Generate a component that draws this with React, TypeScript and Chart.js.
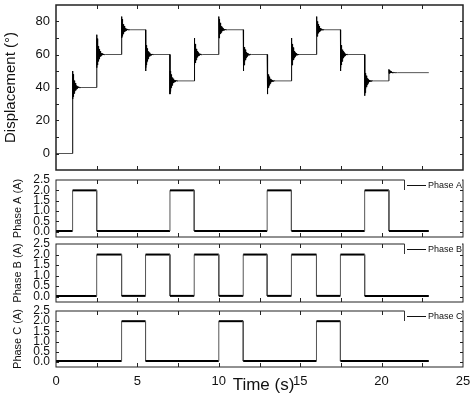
import React, { useEffect, useRef } from 'react';
import { Chart, registerables } from 'chart.js';
Chart.register(...registerables);

// ---------- data ----------
const xTickLabels = [0, 5, 10, 15, 20, 25];
const xInnerTicks = [2.5, 5, 7.5, 10, 12.5, 15, 17.5, 20, 22.5];
const dispTickLabels = [0, 20, 40, 60, 80];
const dispInnerTicks = [0, 10, 20, 30, 40, 50, 60, 70, 80];
const phaseTickLabels = [0, 0.5, 1.0, 1.5, 2.0, 2.5];
const phaseInnerTicks = [0, 0.5, 1.0, 1.5, 2.0];

// step commands (s) and resulting displacement (deg)
const stepTimes = [1.02, 2.5, 4.03, 5.5, 7.0, 8.49, 10.0, 11.5, 12.97, 14.46, 16.0, 17.47, 18.96, 20.45];
const stepLevels = [40, 60, 75, 60, 44, 60, 75, 60, 44, 60, 75, 60, 44, 49];
const firstPeaks = [50, 72, 83, 50, 36, 70, 83, 50, 36, 70, 83, 50, 35, 51];
const firstTroughs = [33, 52, 70, 67, 50, 52, 70, 67, 50, 52, 70, 67, 50, 48.5];
// relative amplitude of the successive ringing cycles after each step
const ringEnvelope = [1, 0.8, 0.64, 0.52, 0.42, 0.34, 0.27, 0.21, 0.16, 0.12, 0.09, 0.07, 0.055, 0.042, 0.032, 0.024, 0.017, 0.011, 0.006, 0.003];
const ringHalfPeriod = 0.013;
const recordEnd = 22.9;

// phase currents (A)
const phaseHigh = 2.0;
const phaseLow = 0.04;
const phaseAOn = [1.02, 7.0, 12.97, 18.96];
const phaseAOff = [2.5, 8.49, 14.46, 20.45];
const phaseBOn = [2.5, 5.5, 8.49, 11.5, 14.46, 17.47];
const phaseBOff = [4.03, 7.0, 10.0, 12.97, 16.0, 18.96];
const phaseCOn = [4.03, 10.0, 16.0];
const phaseCOff = [5.5, 11.5, 17.47];

// ---------- series building ----------
function displacementSeries() {
  const pts: { x: number; y: number }[] = [{ x: 0, y: 0 }];
  let prev = 0;
  stepTimes.forEach((t, i) => {
    const L = stepLevels[i];
    pts.push({ x: t, y: prev });
    ringEnvelope.forEach((e, k) => {
      const t0 = t + 2 * k * ringHalfPeriod;
      pts.push({ x: t0, y: L + (firstPeaks[i] - L) * e });
      pts.push({ x: t0 + ringHalfPeriod, y: L + (firstTroughs[i] - L) * e });
    });
    pts.push({ x: t + 2 * ringEnvelope.length * ringHalfPeriod, y: L });
    prev = L;
  });
  pts.push({ x: recordEnd, y: prev });
  return pts;
}

function phaseSeries(on: number[], off: number[]) {
  const pts: { x: number; y: number }[] = [{ x: 0, y: phaseLow }];
  on.forEach((t, i) => {
    pts.push({ x: t, y: phaseLow }, { x: t, y: phaseHigh }, { x: off[i], y: phaseHigh }, { x: off[i], y: phaseLow });
  });
  pts.push({ x: recordEnd, y: phaseLow });
  return pts;
}

// ---------- plugin: frame, inward ticks, legend, x title ----------
const framePlugin = {
  id: 'frame',
  afterDatasetsDraw(chart: any, _args: any, o: any) {
    const { ctx, chartArea, scales } = chart;
    const { left, right, top, bottom } = chartArea;
    const x = scales.x;
    const y = scales.y;
    ctx.save();
    ctx.strokeStyle = o.color;
    ctx.lineWidth = o.lineWidth;
    ctx.strokeRect(left, top, right - left, bottom - top);
    ctx.lineWidth = 1;
    ctx.strokeStyle = '#222';
    ctx.beginPath();
    o.xTicks.forEach((v: number) => {
      const px = Math.round(x.getPixelForValue(v)) + 0.5;
      ctx.moveTo(px, top);
      ctx.lineTo(px, top + 4);
      ctx.moveTo(px, bottom);
      ctx.lineTo(px, bottom - 4);
    });
    o.yTicks.forEach((v: number) => {
      const py = Math.round(y.getPixelForValue(v)) + 0.5;
      ctx.moveTo(left, py);
      ctx.lineTo(left + 3, py);
      ctx.moveTo(right, py);
      ctx.lineTo(right - 3, py);
    });
    ctx.stroke();
    if (o.legend) {
      const lx = right - 59;
      ctx.fillStyle = '#fff';
      ctx.fillRect(lx + 0.5, top - 1.5, right - lx - 1.5, 10);
      ctx.strokeStyle = '#333';
      ctx.beginPath();
      ctx.moveTo(lx + 0.5, top);
      ctx.lineTo(lx + 0.5, top + 10);
      ctx.stroke();
      ctx.strokeStyle = '#111';
      ctx.beginPath();
      ctx.moveTo(lx + 3, top + 5.5);
      ctx.lineTo(lx + 22, top + 5.5);
      ctx.stroke();
      ctx.fillStyle = '#111';
      ctx.font = "9px 'Liberation Sans', Arial, sans-serif";
      ctx.textBaseline = 'middle';
      ctx.textAlign = 'left';
      ctx.fillText(o.legend, lx + 24, top + 5.5);
    }
    if (o.xTitle) {
      ctx.fillStyle = '#111';
      ctx.font = "17px 'Liberation Sans', Arial, sans-serif";
      ctx.textBaseline = 'middle';
      ctx.textAlign = 'center';
      ctx.fillText(o.xTitle, (left + right) / 2 + 4, bottom + 18);
    }
    ctx.restore();
  },
};

Chart.defaults.font.family = "'Liberation Sans', Arial, sans-serif";
Chart.defaults.color = '#111';

type PanelSpec = {
  data: { x: number; y: number }[];
  padTop: number;
  padBottom: number;
  yMin: number;
  yMax: number;
  yLabels: number[];
  yInner: number[];
  yTitle: string;
  yTitleSize: number;
  yTitlePad: number;
  yTickSize: number;
  fmt: (v: number) => string;
  showX: boolean;
  legend: string | null;
  frameWidth: number;
  kind: 'disp' | 'phase';
};

function makeConfig(p: PanelSpec): any {
  const xScale: any = {
    type: 'linear',
    min: 0,
    max: 25,
    display: p.showX,
    afterBuildTicks: (s: any) => {
      s.ticks = xTickLabels.map((v) => ({ value: v }));
    },
    grid: { display: false, drawTicks: false },
    border: { display: false },
    ticks: { autoSkip: false, maxRotation: 0, padding: 7, font: { size: 13 }, color: '#111' },
  };
  if (p.showX) {
    xScale.afterFit = (s: any) => {
      s.height = 26;
      s.paddingLeft = 0;
      s.paddingRight = 0;
    };
  }
  const segment =
    p.kind === 'phase'
      ? {
          borderWidth: (c: any) => (c.p0.parsed.x === c.p1.parsed.x ? 1 : 2),
          borderColor: (c: any) => (c.p0.parsed.x === c.p1.parsed.x ? '#555' : '#000'),
        }
      : {
          borderColor: (c: any) => (c.p1.parsed.x - c.p0.parsed.x > 0.1 ? '#555' : '#000'),
        };
  return {
    type: 'line',
    data: {
      datasets: [
        {
          data: p.data,
          borderColor: '#000',
          borderWidth: 1,
          pointRadius: 0,
          tension: 0,
          fill: false,
          segment,
        },
      ],
    },
    options: {
      responsive: false,
      animation: false,
      events: [],
      layout: { padding: { left: 0, right: 11, top: p.padTop, bottom: p.padBottom } },
      plugins: {
        legend: { display: false },
        tooltip: { enabled: false },
        frame: {
          color: '#222',
          lineWidth: p.frameWidth,
          xTicks: xInnerTicks,
          yTicks: p.yInner,
          legend: p.legend,
          xTitle: p.showX ? 'Time (s)' : null,
        },
      },
      scales: {
        x: xScale,
        y: {
          type: 'linear',
          min: p.yMin,
          max: p.yMax,
          afterBuildTicks: (s: any) => {
            s.ticks = p.yLabels.map((v) => ({ value: v }));
          },
          afterFit: (s: any) => {
            s.width = 56;
            s.paddingTop = 0;
            s.paddingBottom = 0;
          },
          grid: { display: false, drawTicks: false },
          border: { display: false },
          ticks: {
            autoSkip: false,
            padding: 6,
            font: { size: p.yTickSize },
            color: '#111',
            callback: (v: any) => p.fmt(Number(v)),
          },
          title: {
            display: true,
            text: p.yTitle,
            color: '#111',
            font: { size: p.yTitleSize },
            padding: { top: p.yTitlePad, bottom: 0 },
          },
        },
      },
    },
    plugins: [framePlugin],
  };
}

export default function App() {
  const r0 = useRef<HTMLCanvasElement>(null);
  const r1 = useRef<HTMLCanvasElement>(null);
  const r2 = useRef<HTMLCanvasElement>(null);
  const r3 = useRef<HTMLCanvasElement>(null);

  useEffect(() => {
    const phaseFmt = (v: number) => v.toFixed(1);
    const specs: PanelSpec[] = [
      {
        data: displacementSeries(),
        padTop: 5,
        padBottom: 393 - 170,
        yMin: -10,
        yMax: 90,
        yLabels: dispTickLabels,
        yInner: dispInnerTicks,
        yTitle: 'Displacement (°)',
        yTitleSize: 15,
        yTitlePad: 2,
        yTickSize: 13,
        fmt: (v) => String(v),
        showX: false,
        legend: null,
        frameWidth: 1.5,
        kind: 'disp',
      },
      {
        data: phaseSeries(phaseAOn, phaseAOff),
        padTop: 180,
        padBottom: 393 - 237,
        yMin: -0.25,
        yMax: 2.5,
        yLabels: phaseTickLabels,
        yInner: phaseInnerTicks,
        yTitle: 'Phase A (A)',
        yTitleSize: 11,
        yTitlePad: 11,
        yTickSize: 12,
        fmt: phaseFmt,
        showX: false,
        legend: 'Phase A',
        frameWidth: 1,
        kind: 'phase',
      },
      {
        data: phaseSeries(phaseBOn, phaseBOff),
        padTop: 244,
        padBottom: 393 - 302,
        yMin: -0.25,
        yMax: 2.5,
        yLabels: phaseTickLabels,
        yInner: phaseInnerTicks,
        yTitle: 'Phase B (A)',
        yTitleSize: 11,
        yTitlePad: 11,
        yTickSize: 12,
        fmt: phaseFmt,
        showX: false,
        legend: 'Phase B',
        frameWidth: 1,
        kind: 'phase',
      },
      {
        data: phaseSeries(phaseCOn, phaseCOff),
        padTop: 311,
        padBottom: 0,
        yMin: -0.25,
        yMax: 2.5,
        yLabels: phaseTickLabels,
        yInner: phaseInnerTicks,
        yTitle: 'Phase C (A)',
        yTitleSize: 11,
        yTitlePad: 11,
        yTickSize: 12,
        fmt: phaseFmt,
        showX: true,
        legend: 'Phase C',
        frameWidth: 1,
        kind: 'phase',
      },
    ];
    const refs = [r0, r1, r2, r3];
    const charts = specs.map((s, i) => new Chart(refs[i].current as HTMLCanvasElement, makeConfig(s)));
    return () => charts.forEach((c) => c.destroy());
  }, []);

  const cs: React.CSSProperties = { position: 'absolute', left: 0, top: 0, width: 474, height: 393 };
  return (
    <div style={{ position: 'absolute', left: 0, top: 0, width: 474, height: 393, background: '#fff' }}>
      <canvas ref={r0} width={474} height={393} style={cs} />
      <canvas ref={r1} width={474} height={393} style={cs} />
      <canvas ref={r2} width={474} height={393} style={cs} />
      <canvas ref={r3} width={474} height={393} style={cs} />
    </div>
  );
}
